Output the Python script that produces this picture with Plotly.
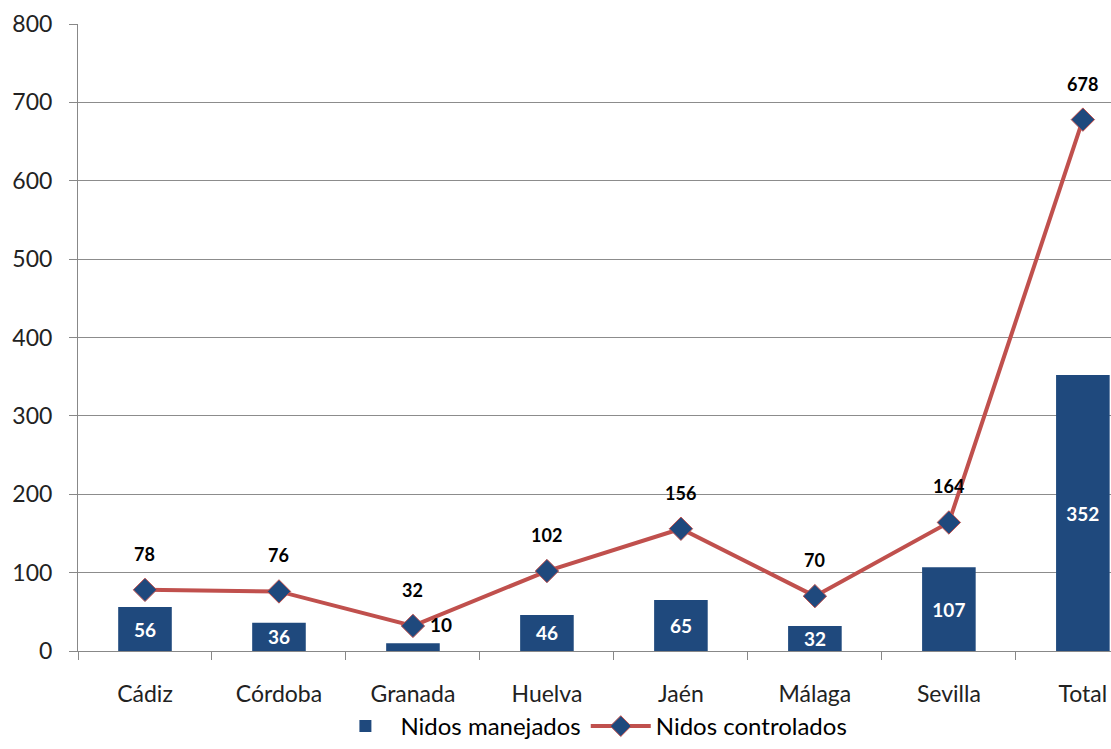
import plotly.graph_objects as go

categories = ["Cádiz", "Córdoba", "Granada", "Huelva", "Jaén", "Málaga", "Sevilla", "Total"]
manejados = [56, 36, 10, 46, 65, 32, 107, 352]
controlados = [78, 76, 32, 102, 156, 70, 164, 678]
y_ticks = [0, 100, 200, 300, 400, 500, 600, 700, 800]

BLUE = "#1F497D"
RED = "#C0504D"
FONT = "Lato, 'Open Sans', sans-serif"

xs = list(range(len(categories)))

bar_text = [str(v) if v >= 20 else "" for v in manejados]

fig = go.Figure()
fig.add_trace(go.Bar(
    x=xs, y=manejados, name="Nidos manejados",
    marker=dict(color=BLUE, line=dict(width=0)),
    width=0.4,
    text=bar_text, textposition="inside", insidetextanchor="middle", textangle=0,
    textfont=dict(color="white", size=19, family=FONT, weight="bold"),
    constraintext="none",
    cliponaxis=False,
))
fig.add_trace(go.Scatter(
    x=xs, y=controlados, name="Nidos controlados",
    mode="lines+markers",
    line=dict(color=RED, width=4),
    marker=dict(symbol="diamond", size=18, color=BLUE, line=dict(color=RED, width=1)),
    cliponaxis=False,
))

annotations = []
for x, v in zip(xs, controlados):
    annotations.append(dict(x=x, y=v, text=str(v), showarrow=False, yshift=36,
                            font=dict(size=18, color="black", family=FONT, weight="bold")))
for x, v in zip(xs, manejados):
    if v < 20:
        annotations.append(dict(x=x, y=v, text=str(v), showarrow=False, xshift=28, yshift=19,
                                font=dict(size=19, color="black", family=FONT, weight="bold")))

fig.update_layout(
    width=1111, height=749,
    margin=dict(l=78, r=0, t=24, b=98, autoexpand=False),
    plot_bgcolor="white", paper_bgcolor="white",
    bargap=0.6,
    showlegend=True,
    legend=dict(orientation="h", x=0.497, xanchor="center",
                yref="container", y=0.0, yanchor="bottom",
                font=dict(size=24, family=FONT, color="black"),
                itemwidth=60, traceorder="normal", bgcolor="rgba(0,0,0,0)",
                tracegroupgap=0),
    annotations=annotations,
    font=dict(family=FONT),
)
fig.update_xaxes(
    range=[-0.5, 7.21],
    tickmode="array", tickvals=xs, ticktext=categories,
    ticks="", showgrid=False, zeroline=False,
    showline=True, linecolor="#888888", linewidth=1,
    tickfont=dict(size=23, family=FONT, color="#222222"),
    ticklabelstandoff=22,
    minor=dict(tick0=-0.5, dtick=1, ticks="outside", ticklen=8, tickcolor="#888888", showgrid=False),
)
fig.update_yaxes(
    range=[0, 800], tickmode="array", tickvals=y_ticks,
    showgrid=True, gridcolor="#8c8c8c", gridwidth=1,
    zeroline=False, showline=True, linecolor="#888888", linewidth=1,
    ticks="outside", ticklen=8, tickcolor="#888888",
    tickfont=dict(size=23, family=FONT, color="#222222"),
    ticklabelstandoff=12,
)

fig.write_html("out.html")
